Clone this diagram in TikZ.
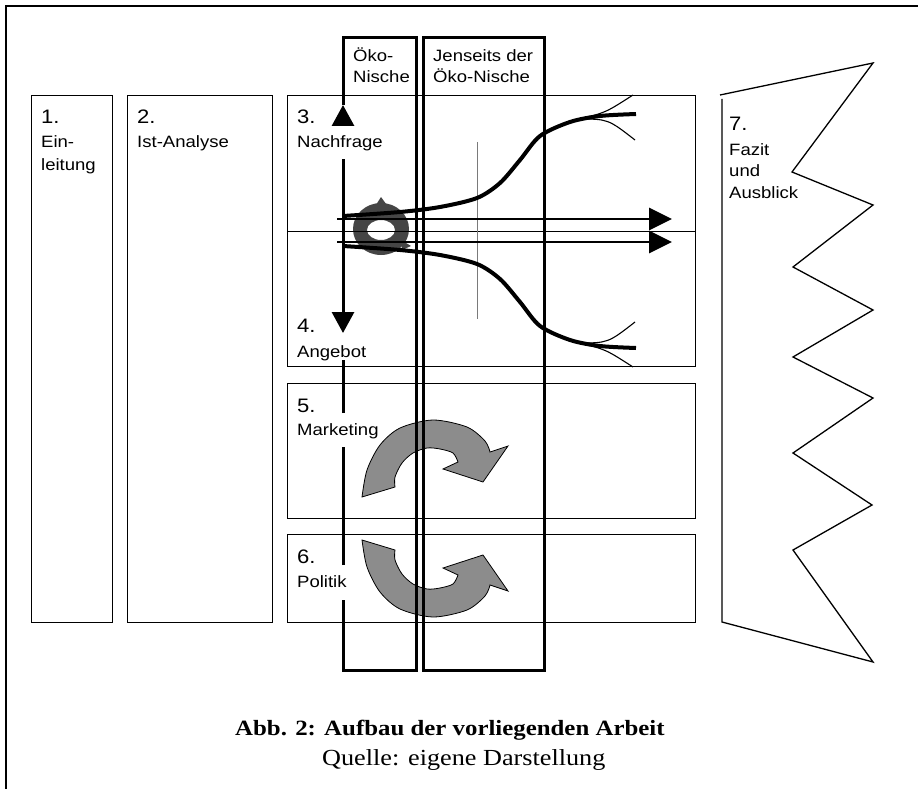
\documentclass[tikz,border=0pt]{standalone}
\usepackage{fontspec}
\setmainfont{Liberation Serif}
\newfontfamily\labfont[FakeStretch=1.13]{Liberation Sans}
\newfontfamily\capfont[FakeStretch=1.14]{Liberation Serif}
\usetikzlibrary{arrows.meta}
\definecolor{garrowfill}{HTML}{8C8C8C}
\definecolor{ringfill}{HTML}{454545}
\definecolor{thingray}{HTML}{7A7A7A}
\tikzset{
  lbl/.style={anchor=base west, inner sep=0pt, font=\labfont\fontsize{16.4}{19}\selectfont},
  num/.style={anchor=base west, inner sep=0pt, font=\labfont\fontsize{19.5}{22}\selectfont},
  boxline/.style={draw=black, line width=1.3pt},
  colline/.style={draw=black, line width=3pt},
  frameline/.style={draw=black, line width=2.2pt},
  harrow/.style={draw=black, line width=2.8pt, -{Triangle[length=23pt,width=22pt]}},
  varrow/.style={draw=black, line width=3pt, -{Triangle[length=21pt,width=22pt]}},
  scurve/.style={draw=black, line width=4pt},
  branch/.style={draw=black, line width=1.1pt},
  garrow/.style={fill=garrowfill, draw=black, line width=0.8pt},
  bigarrow/.pic={
    \path[garrow] plot[smooth] coordinates {(-71,14) (-66,-13) (-53,-38) (-33,-55) (0,-63) (34,-56) (52,-42) (57,-31)}
      -- (75,-37) -- (50,-1) -- (10,-14)
      -- plot[smooth] coordinates {(25,-21) (20,-30) (7,-34) (-6,-35) (-20,-30) (-31,-20) (-38,-6) (-38,4)}
      -- cycle;
  }
}
\begin{document}
\begin{tikzpicture}[x=1pt,y=-1pt]
\useasboundingbox (0,0) rectangle (918,789);
% page frame
\draw[frameline] (6,789) -- (6,6) -- (918,6);

% big gray circular arrows
\pic (mkarrow) at (433,483) {bigarrow};
\pic[yscale=-1] (poarrow) at (433,554) {bigarrow};

% small dark ring
\fill[ringfill, even odd rule] (381,229) ellipse [x radius=28pt, y radius=26pt]
  (381,230) ellipse [x radius=14pt, y radius=10pt];
\fill[ringfill] (374,208) -- (381,197) -- (389,208) -- cycle;
\fill[ringfill] (401,240) -- (411,246) -- (402,250) -- cycle;

% boxes
\node[boxline, anchor=north west, minimum width=81pt, minimum height=527pt, inner sep=0pt] (b1) at (31,95) {};
\node[boxline, anchor=north west, minimum width=145pt, minimum height=527pt, inner sep=0pt] (b2) at (127,95) {};
\node[boxline, anchor=north west, minimum width=408pt, minimum height=271pt, inner sep=0pt] (b34) at (287,95) {};
\draw[boxline] (b34.west) -- (b34.east);
\node[boxline, anchor=north west, minimum width=408pt, minimum height=135pt, inner sep=0pt] (b5) at (287,383) {};
\node[boxline, anchor=north west, minimum width=408pt, minimum height=88pt, inner sep=0pt] (b6) at (287,534) {};
\draw[boxline] (720,95) -- (873,63) -- (792,172) -- (873,205) -- (793,267) -- (873,310)
  -- (793,357) -- (873,398) -- (793,453) -- (872,505) -- (793,550) -- (873,662) -- (722,622) -- (722,99);

% thin vertical line
\draw[thingray, line width=1pt] (477,142) -- (477,319);

% S-curves
\draw[scurve] plot[smooth] coordinates {(343,216) (400,212) (440,207) (477,198) (500,183) (520,160) (540,136) (570,122) (600,116) (636,114)};
\draw[scurve] plot[smooth] coordinates {(343,246) (400,250) (440,255) (477,264) (500,279) (520,302) (540,326) (570,340) (600,346) (636,348)};
\draw[branch] (578,119) .. controls (605,113) .. (633,95);
\draw[branch] (578,119) .. controls (608,119) .. (635,140);
\draw[branch] (578,343) .. controls (605,349) .. (633,367);
\draw[branch] (578,343) .. controls (608,343) .. (635,322);

% columns
\draw[colline] (343,105) -- (343,38) -- (416,38) -- (416,670) -- (343,670) -- (343,600);
\draw[colline] (343,565) -- (343,447);
\draw[colline] (343,413) -- (343,360);
\draw[colline] (423,38) rectangle (544,670);

% vertical arrows
\coordinate (upS) at (343,126);
\coordinate (upE) at (343,105);
\coordinate (dnS) at (343,159);
\coordinate (dnE) at (343,333);
\draw[varrow] (upS) -- (upE);
\draw[varrow] (dnS) -- (dnE);

% horizontal arrows
\coordinate (h1s) at (337,219);
\coordinate (h1e) at (672,219);
\coordinate (h2s) at (337,242);
\coordinate (h2e) at (672,242);
\draw[harrow] (h1s) -- (h1e);
\draw[harrow] (h2s) -- (h2e);

% column headings
\node[lbl] (ok1) at (353,62) {Öko-};
\node[lbl] (ok2) at (353,83) {Nische};
\node[lbl] (je1) at (433,62) {Jenseits der};
\node[lbl] (je2) at (433,83) {Öko-Nische};

% box labels
\node[num] (n1) at (41,124) {1.};
\node[lbl] (t1a) at (41,148) {Ein-};
\node[lbl] (t1b) at (41,171) {leitung};
\node[num] (n2) at (137,124) {2.};
\node[lbl] (t2) at (137,148) {Ist-Analyse};
\node[num] (n3) at (297,124) {3.};
\node[lbl] (t3) at (297,147) {Nachfrage};
\node[num] (n4) at (297,332) {4.};
\node[lbl] (t4) at (297,357) {Angebot};
\node[num] (n5) at (297,412) {5.};
\node[lbl] (t5) at (297,435) {Marketing};
\node[num] (n6) at (297,563) {6.};
\node[lbl] (t6) at (297,587) {Politik};
\node[num] (n7) at (729,131) {7.};
\node[lbl] (t7a) at (729,155) {Fazit};
\node[lbl] (t7b) at (729,176) {und};
\node[lbl] (t7c) at (729,198) {Ausblick};

% caption
\node[anchor=base west, inner sep=0pt, font=\capfont\bfseries\fontsize{21.8}{24}\selectfont] (cap1) at (235,735) {Abb. 2: Aufbau der vorliegenden Arbeit};
\node[anchor=base west, inner sep=0pt, font=\capfont\fontsize{23}{26}\selectfont] (cap2) at (322,765) {Quelle: eigene Darstellung};
\end{tikzpicture}
\end{document}
